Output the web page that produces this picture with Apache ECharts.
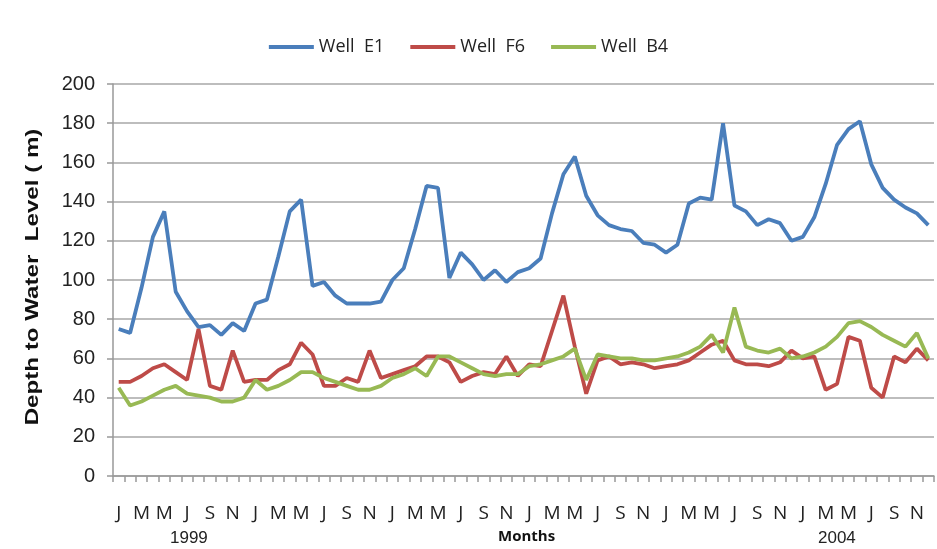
<!DOCTYPE html>
<html>
<head>
<meta charset="utf-8">
<script src="https://cdn.jsdelivr.net/npm/echarts@6/dist/echarts.min.js"></script>
<style>
html,body{margin:0;padding:0;background:#fff;}
#c{width:937px;height:549px;}
</style>
</head>
<body>
<div id="c"></div>
<script>
const monthLetters = ['J','F','M','A','M','J','J','A','S','O','N','D'];
const years = ['1999','2000','2001','2002','2003','2004'];
const yearLabels = ['1999','2004'];
const xTitle = 'Months';
const yTitle = 'Depth to Water  Level ( m)';
const seriesNames = ['Well  E1','Well  F6','Well  B4'];
const yTicks = [0,20,40,60,80,100,120,140,160,180,200];

const wellE1 = [75,73,96,122,135,94,84,76,77,72,78,74,
  88,90,112,135,141,97,99,92,88,88,88,89,
  100,106,126,148,147,101,114,108,100,105,99,104,
  106,111,134,154,163,143,133,128,126,125,119,118,
  114,118,139,142,141,180,138,135,128,131,129,120,
  122,132,149,169,177,181,159,147,141,137,134,128];
const wellF6 = [48,48,51,55,57,53,49,75,46,44,64,48,
  49,49,54,57,68,62,46,46,50,48,64,50,
  52,54,56,61,61,58,48,51,53,52,61,51,
  57,56,74,92,66,42,59,61,57,58,57,55,
  56,57,59,63,67,69,59,57,57,56,58,64,
  60,61,44,47,71,69,45,40,61,58,65,59];
const wellB4 = [45,36,38,41,44,46,42,41,40,38,38,40,
  49,44,46,49,53,53,50,48,46,44,44,46,
  50,52,55,51,61,61,58,55,52,51,52,52,
  56,57,59,61,65,49,62,61,60,60,59,59,
  60,61,63,66,72,63,86,66,64,63,65,60,
  61,63,66,71,78,79,76,72,69,66,73,60];

const categories = [];
years.forEach(() => monthLetters.forEach(m => categories.push(m)));

const colors = ['#4a7ebb','#be4b48','#98b954'];
const chart = echarts.init(document.getElementById('c'));
const mk = (name, data, color) => ({
  name, type:'line', data, symbol:'none', smooth:false,
  lineStyle:{color, width:3.8}, itemStyle:{color}
});
chart.setOption({
  animation:false,
  backgroundColor:'#fff',
  legend:{
    top:33, left:'center', itemGap:26, itemWidth:45, itemHeight:4,
    icon:'rect',
    textStyle:{fontFamily:'Open Sans', fontSize:18, color:'#222'},
    data: seriesNames
  },
  grid:{left:113, right:3, top:84, bottom:73},
  xAxis:{
    type:'category', data:categories, boundaryGap:true,
    axisLine:{lineStyle:{color:'#999', width:1.5}},
    axisTick:{show:true, interval:0, length:6, lineStyle:{color:'#999', width:1.5}},
    axisLabel:{interval:1, margin:28, fontFamily:'Open Sans', fontSize:19, color:'#222'}
  },
  yAxis:{
    type:'value', min:0, max:200, interval:20,
    axisLine:{show:true, lineStyle:{color:'#999', width:1.5}},
    axisTick:{show:true, length:6, lineStyle:{color:'#999', width:1.5}},
    axisLabel:{margin:18, fontFamily:'Liberation Sans', fontSize:20, color:'#222',
      formatter: v => yTicks.includes(v) ? String(v) : ''},
    splitLine:{lineStyle:{color:'#bdbdbd', width:2}}
  },
  series:[mk(seriesNames[0], wellE1, colors[0]), mk(seriesNames[1], wellF6, colors[1]), mk(seriesNames[2], wellB4, colors[2])],
  graphic:[
    {type:'text', x:33, y:277, rotation:Math.PI/2, scaleX:1.27, scaleY:1,
      style:{text:yTitle, font:'bold 19px "Liberation Sans"', fill:'#111', align:'center', verticalAlign:'middle'}},
    {type:'text', left:170, top:530, style:{text:yearLabels[0], font:'17px "Liberation Sans Narrow", "Liberation Sans"', fill:'#222'}},
    {type:'text', left:818, top:530, style:{text:yearLabels[1], font:'17px "Liberation Sans Narrow", "Liberation Sans"', fill:'#222'}},
    {type:'text', left:498, top:529, style:{text:xTitle, font:'bold 15px "Open Sans"', fill:'#111'}}
  ]
});
</script>
</body>
</html>
